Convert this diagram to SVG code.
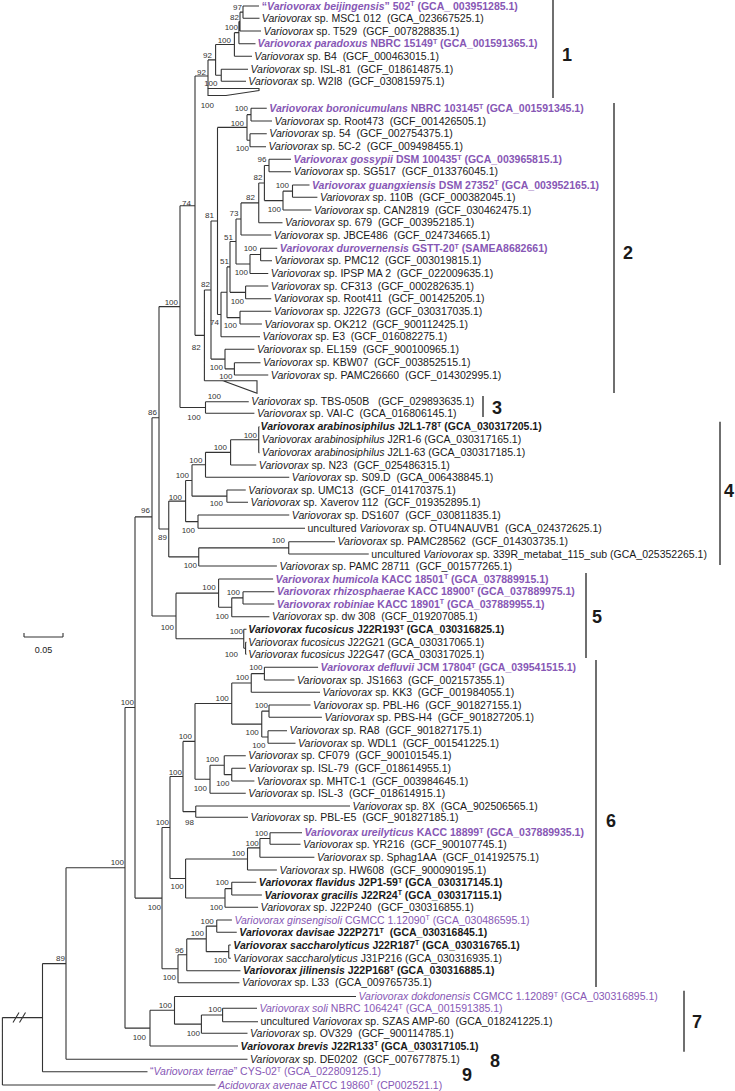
<svg xmlns="http://www.w3.org/2000/svg" width="735" height="1091" viewBox="0 0 735 1091">
<style>
.t{font-family:"Liberation Sans",Arial,sans-serif;font-size:10.5px;fill:#1a1a1a}
.b{font-weight:bold}
.p{fill:#8757b5}
.i{font-style:italic}
.s{font-size:7px}
.bs{font-family:"Liberation Sans",Arial,sans-serif;font-size:8px;fill:#333;text-anchor:end}
.cl{font-family:"Liberation Sans",Arial,sans-serif;font-size:18px;font-weight:bold;fill:#1a1a1a}
.ln{fill:none;stroke:#333;stroke-width:1.1}
.bar{fill:none;stroke:#333;stroke-width:1.4}
</style>
<rect width="735" height="1091" fill="#fff"/>
<g id="connectors">
<path class="ln" d="M243 6V18.3M243 6H259M243 18.3H259.5M240 12.15V31M240 12.15H243M240 31H261M238.9 21.6V43.7M238.9 21.6H240M238.9 43.7H255.5M234.4 32.65V56.3M234.4 32.65H238.9M234.4 56.3H252M221.25 69.3V81.3M221.25 69.3H248M221.25 81.3H246M215.6 44.5V75.3M215.6 44.5H234.4M215.6 75.3H221.25M208 59.9V88.5M208 59.9H215.6M195 76V335.35M195 76H208M195 335.35H204.4"/>
<polygon class="ln" points="208,88.5 259,88.5 259,90.5 226,95.5 208,95.5"/>
<path class="ln" d="M251 108.3V121M251 108.3H266.75M251 121H272M250 133.7V146.7M250 133.7H266.75M250 146.7H266M247 114.65V140.2M247 114.65H251M247 140.2H250M269 159.3V171.7M269 159.3H291M269 171.7H291M292.5 185V197.3M292.5 185H309.5M292.5 197.3H317.4M283 191.15V210M283 191.15H292.5M283 210H311.4M264.4 165.5V200.6M264.4 165.5H269M264.4 200.6H283M258.75 183.05V222.7M258.75 183.05H264.4M258.75 222.7H282.5M241 202.9V235M241 202.9H258.75M241 235H271.25M260.6 248.3V260.7M260.6 248.3H277.25M260.6 260.7H272M250 254.5V273.5M250 254.5H260.6M250 273.5H268.25M236 218.95V264M236 218.95H241M236 264H250M245.6 286V298.7M245.6 286H268.25M245.6 298.7H271.25M230 241.5V292.35M230 241.5H236M230 292.35H245.6M240 311.3V324M240 311.3H271.25M240 324H261.9M227 266.9V317.65M227 266.9H230M227 317.65H240M221 292.3V336.7M221 292.3H227M221 336.7H260M217.5 127.4V314.5M217.5 127.4H247M217.5 314.5H221M234.4 362.7V375M234.4 362.7H260.5M234.4 375H268.25M225 349.3V368.85M225 349.3H254.4M225 368.85H234.4M211 220.95V359.1M211 220.95H217.5M211 359.1H225M204.4 290V380.7M204.4 290H211M204.4 380.7H223"/>
<polygon class="ln" points="223,380.7 257,380.7 257,393.3"/>
<path class="ln" d="M205.5 401.7V413.3M205.5 401.7H248.75M205.5 413.3H254.4M180 205.7V407.5M180 205.7H195M180 407.5H205.5"/>
<path class="ln" d="M258.75 426.7V452.7M258.75 426.7H259.5M258.75 452.7H259.5M230.6 439.7H258.75M230.6 439.7V465M230.6 465H256.25M205.5 452.35V477.3M205.5 452.35H230.6M205.5 477.3H289.25M226.9 490V502.3M226.9 490H245.75M226.9 502.3H248M192 464.8V496.15M192 464.8H205.5M192 496.15H226.9M198 515V528.3M198 515H289.25M198 528.3H305M185.6 480.5V521.65M185.6 480.5H192M185.6 521.65H198M288.75 541.7V554M288.75 541.7H335M288.75 554H368.75M198.75 547.85V566M198.75 547.85H288.75M198.75 566H276.9M168.75 501.1V556.9M168.75 501.1H185.6M168.75 556.9H198.75M159 306.6V529M159 306.6H180M159 529H168.75"/>
<path class="ln" d="M243 591.7V604M243 591.7H274.25M243 604H274.25M231.75 597.85V616.7M231.75 597.85H243M231.75 616.7H269.4M218.6 579V607.3M218.6 579H273.1M218.6 607.3H231.75M245.6 642.3V654.3M245.6 642.3H246.5M245.6 654.3H246.5M243.75 629.3V648.3M243.75 629.3H246.5M243.75 648.3H245.6M176 593.15V638.8M176 593.15H218.6M176 638.8H243.75M152 417.8V616M152 417.8H159M152 616H176"/>
<path class="ln" d="M264.4 667.3V680M264.4 667.3H318.1M264.4 680H294.5M251.25 673.65V692.3M251.25 673.65H264.4M251.25 692.3H320M269 705V717.3M269 705H310.5M269 717.3H321.9M268 730.7V743.3M268 730.7H287M268 743.3H295.5M261.75 711.15V737M261.75 711.15H269M261.75 737H268M231.75 683V724.1M231.75 683H251.25M231.75 724.1H261.75M231.75 768.3V781M231.75 768.3H245.75M231.75 781H254.4M224.25 755.7V774.65M224.25 755.7H245.75M224.25 774.65H231.75M210 765.2V793.3M210 765.2H224.25M210 793.3H245.75M195 703.55V779.25M195 703.55H231.75M195 779.25H210M195.75 806V817.3M195.75 806H350M195.75 817.3H248M183 741.4V811.65M183 741.4H195M183 811.65H195.75M270 832.7V844.3M270 832.7H302M270 844.3H300.5M259.9 838.5V857.3M259.9 838.5H270M259.9 857.3H314.4M247.5 847.9V870M247.5 847.9H259.9M247.5 870H276.9M231.75 882.3V895M231.75 882.3H256.25M231.75 895H261.9M225 888.65V907.3M225 888.65H231.75M225 907.3H258.1M185.6 858.95V898M185.6 858.95H247.5M185.6 898H225M170 776.5V878.5M170 776.5H183M170 878.5H185.6M216.75 920V932.3M216.75 920H231.9M216.75 932.3H236.75M228.75 945V958.3M228.75 945H230.75M228.75 958.3H230.75M206.25 926.15V951.65M206.25 926.15H216.75M206.25 951.65H228.75M186.75 938.9V970.7M186.75 938.9H206.25M186.75 970.7H240.5M178 954.8V982.7M178 954.8H186.75M178 982.7H239.4M162 827.5V968.75M162 827.5H170M162 968.75H178"/>
<path class="ln" d="M135 516.9V898.1M135 516.9H152M135 898.1H162M125 707.5V1028.15M125 707.5H135M125 1028.15H150M222.6 1008.3V1021.7M222.6 1008.3H257M222.6 1021.7H258M201.4 1015V1033.3M201.4 1015H222.6M201.4 1033.3H247.5M174.5 996.5V1024.15M174.5 996.5H356M174.5 1024.15H201.4M150 1010.3V1046M150 1010.3H174.5M150 1046H238M66 867.8V1059.3M66 867.8H125M66 1059.3H247.5M42.5 963.6V1071.7M42.5 963.6H66M42.5 1071.7H147.5M2.4 1017.6V1085M2.4 1017.6H42.5M2.4 1085H215.5"/>
<path class="ln" d="M13 1022.5L19 1012.5M19.5 1022.5L25.5 1012.5"/>
</g>
<g id="leaves">
<g id="n-beijingensis"><text class="t b p" x="261.8" y="9.7">“<tspan class="i">Variovorax beijingensis</tspan>” 502<tspan class="s" dy="-3.5">T</tspan><tspan dy="3.5"> (GCA_ 003951285.1)</tspan></text></g>
<g id="n-msc1"><text class="t" x="261.8" y="22"><tspan class="i">Variovorax</tspan> sp. MSC1 012&#160; (GCA_023667525.1)</text></g>
<g id="n-t529"><text class="t" x="263.6" y="34.7"><tspan class="i">Variovorax</tspan> sp. T529&#160; (GCF_007828835.1)</text></g>
<g id="n-paradoxus"><text class="t b p" x="257.6" y="47.4"><tspan class="i">Variovorax paradoxus</tspan> NBRC 15149<tspan class="s" dy="-3.5">T</tspan><tspan dy="3.5"> (GCA_001591365.1)</tspan></text></g>
<g id="n-b4"><text class="t" x="254.3" y="60"><tspan class="i">Variovorax</tspan> sp. B4&#160; (GCF_000463015.1)</text></g>
<g id="n-isl81"><text class="t" x="250.5" y="73"><tspan class="i">Variovorax</tspan> sp. ISL-81&#160; (GCF_018614875.1)</text></g>
<g id="n-w2i8"><text class="t" x="248.3" y="85"><tspan class="i">Variovorax</tspan> sp. W2I8&#160; (GCF_030815975.1)</text></g>
<g id="n-boronicumulans"><text class="t b p" x="269.3" y="112"><tspan class="i">Variovorax boronicumulans</tspan> NBRC 103145<tspan class="s" dy="-3.5">T</tspan><tspan dy="3.5"> (GCA_001591345.1)</tspan></text></g>
<g id="n-root473"><text class="t" x="274.5" y="124.7"><tspan class="i">Variovorax</tspan> sp. Root473&#160; (GCF_001426505.1)</text></g>
<g id="n-54"><text class="t" x="269.3" y="137.4"><tspan class="i">Variovorax</tspan> sp. 54&#160; (GCF_002754375.1)</text></g>
<g id="n-5c2"><text class="t" x="268.5" y="150.4"><tspan class="i">Variovorax</tspan> sp. 5C-2&#160; (GCF_009498455.1)</text></g>
<g id="n-gossypii"><text class="t b p" x="293.6" y="163"><tspan class="i">Variovorax gossypii</tspan> DSM 100435<tspan class="s" dy="-3.5">T</tspan><tspan dy="3.5"> (GCA_003965815.1)</tspan></text></g>
<g id="n-sg517"><text class="t" x="293.6" y="175.4"><tspan class="i">Variovorax</tspan> sp. SG517&#160; (GCF_013376045.1)</text></g>
<g id="n-guangxiensis"><text class="t b p" x="312" y="188.7"><tspan class="i">Variovorax guangxiensis</tspan> DSM 27352<tspan class="s" dy="-3.5">T</tspan><tspan dy="3.5"> (GCA_003952165.1)</tspan></text></g>
<g id="n-110b"><text class="t" x="319.9" y="201"><tspan class="i">Variovorax</tspan> sp. 110B&#160; (GCF_000382045.1)</text></g>
<g id="n-can2819"><text class="t" x="313.9" y="213.7"><tspan class="i">Variovorax</tspan> sp. CAN2819&#160; (GCF_030462475.1)</text></g>
<g id="n-679"><text class="t" x="285" y="226.4"><tspan class="i">Variovorax</tspan> sp. 679&#160; (GCF_003952185.1)</text></g>
<g id="n-jbce486"><text class="t" x="273.8" y="238.7"><tspan class="i">Variovorax</tspan> sp. JBCE486&#160; (GCF_024734665.1)</text></g>
<g id="n-durovernensis"><text class="t b p" x="279.8" y="252"><tspan class="i">Variovorax durovernensis</tspan> GSTT-20<tspan class="s" dy="-3.5">T</tspan><tspan dy="3.5"> (SAMEA8682661)</tspan></text></g>
<g id="n-pmc12"><text class="t" x="274.5" y="264.4"><tspan class="i">Variovorax</tspan> sp. PMC12&#160; (GCF_003019815.1)</text></g>
<g id="n-ipsp"><text class="t" x="270.8" y="277.2"><tspan class="i">Variovorax</tspan> sp. IPSP MA 2&#160; (GCF_022009635.1)</text></g>
<g id="n-cf313"><text class="t" x="270.8" y="289.7"><tspan class="i">Variovorax</tspan> sp. CF313&#160; (GCF_000282635.1)</text></g>
<g id="n-root411"><text class="t" x="273.8" y="302.4"><tspan class="i">Variovorax</tspan> sp. Root411&#160; (GCF_001425205.1)</text></g>
<g id="n-j22g73"><text class="t" x="273.8" y="315"><tspan class="i">Variovorax</tspan> sp. J22G73&#160; (GCF_030317035.1)</text></g>
<g id="n-ok212"><text class="t" x="264.4" y="327.7"><tspan class="i">Variovorax</tspan> sp. OK212&#160; (GCF_900112425.1)</text></g>
<g id="n-e3"><text class="t" x="262.5" y="340.4"><tspan class="i">Variovorax</tspan> sp. E3&#160; (GCF_016082275.1)</text></g>
<g id="n-el159"><text class="t" x="256.9" y="353"><tspan class="i">Variovorax</tspan> sp. EL159&#160; (GCF_900100965.1)</text></g>
<g id="n-kbw07"><text class="t" x="263" y="366.4"><tspan class="i">Variovorax</tspan> sp. KBW07&#160; (GCF_003852515.1)</text></g>
<g id="n-pamc26660"><text class="t" x="270.8" y="378.7"><tspan class="i">Variovorax</tspan> sp. PAMC26660&#160; (GCF_014302995.1)</text></g>
<g id="n-tbs050b"><text class="t" x="251.3" y="405.4"><tspan class="i">Variovorax</tspan> sp. TBS-050B&#160;&#160; (GCF_029893635.1)</text></g>
<g id="n-vaic"><text class="t" x="256.9" y="417"><tspan class="i">Variovorax</tspan> sp. VAI-C&#160; (GCA_016806145.1)</text></g>
<g id="n-arab1"><text class="t b" x="260.6" y="430.4"><tspan class="i">Variovorax arabinosiphilus</tspan> J2L1-78<tspan class="s" dy="-3.5">T</tspan><tspan dy="3.5"> (GCA_030317205.1)</tspan></text></g>
<g id="n-arab2"><text class="t" x="261.8" y="443"><tspan class="i">Variovorax arabinosiphilus</tspan> J2R1-6 (GCA_030317165.1)</text></g>
<g id="n-arab3"><text class="t" x="261.8" y="456.4"><tspan class="i">Variovorax arabinosiphilus</tspan> J2L1-63 (GCA_030317185.1)</text></g>
<g id="n-n23"><text class="t" x="258.8" y="468.7"><tspan class="i">Variovorax</tspan> sp. N23&#160; (GCF_025486315.1)</text></g>
<g id="n-s09d"><text class="t" x="291.8" y="481"><tspan class="i">Variovorax</tspan> sp. S09.D&#160; (GCA_006438845.1)</text></g>
<g id="n-umc13"><text class="t" x="248.3" y="493.7"><tspan class="i">Variovorax</tspan> sp. UMC13&#160; (GCF_014170375.1)</text></g>
<g id="n-xaverov"><text class="t" x="250.5" y="506"><tspan class="i">Variovorax</tspan> sp. Xaverov 112&#160; (GCF_019352895.1)</text></g>
<g id="n-ds1607"><text class="t" x="291.8" y="518.7"><tspan class="i">Variovorax</tspan> sp. DS1607&#160; (GCF_030811835.1)</text></g>
<g id="n-otu4"><text class="t" x="307.5" y="532">uncultured <tspan class="i">Variovorax</tspan> sp. OTU4NAUVB1&#160; (GCA_024372625.1)</text></g>
<g id="n-pamc28562"><text class="t" x="337.5" y="545.4"><tspan class="i">Variovorax</tspan> sp. PAMC28562&#160; (GCF_014303735.1)</text></g>
<g id="n-339r"><text class="t" x="371.3" y="557.7">uncultured <tspan class="i">Variovorax</tspan> sp. 339R_metabat_115_sub (GCA_025352265.1)</text></g>
<g id="n-pamc28711"><text class="t" x="279.4" y="569.7"><tspan class="i">Variovorax</tspan> sp. PAMC 28711&#160; (GCF_001577265.1)</text></g>
<g id="n-humicola"><text class="t b p" x="275.6" y="582.7"><tspan class="i">Variovorax humicola</tspan> KACC 18501<tspan class="s" dy="-3.5">T</tspan><tspan dy="3.5"> (GCA_037889915.1)</tspan></text></g>
<g id="n-rhizosphaerae"><text class="t b p" x="276.8" y="595.4"><tspan class="i">Variovorax rhizosphaerae</tspan> KACC 18900<tspan class="s" dy="-3.5">T</tspan><tspan dy="3.5"> (GCA_037889975.1)</tspan></text></g>
<g id="n-robiniae"><text class="t b p" x="276.8" y="607.7"><tspan class="i">Variovorax robiniae</tspan> KACC 18901<tspan class="s" dy="-3.5">T</tspan><tspan dy="3.5"> (GCA_037889955.1)</tspan></text></g>
<g id="n-dw308"><text class="t" x="271.9" y="620.4"><tspan class="i">Variovorax</tspan> sp. dw 308&#160; (GCF_019207085.1)</text></g>
<g id="n-fuc1"><text class="t b" x="248.3" y="633"><tspan class="i">Variovorax fucosicus</tspan> J22R193<tspan class="s" dy="-3.5">T</tspan><tspan dy="3.5"> (GCA_030316825.1)</tspan></text></g>
<g id="n-fuc2"><text class="t" x="248.3" y="646"><tspan class="i">Variovorax fucosicus</tspan> J22G21 (GCA_030317065.1)</text></g>
<g id="n-fuc3"><text class="t" x="248.3" y="658"><tspan class="i">Variovorax fucosicus</tspan> J22G47 (GCA_030317025.1)</text></g>
<g id="n-defluvii"><text class="t b p" x="320.6" y="671"><tspan class="i">Variovorax defluvii</tspan> JCM 17804<tspan class="s" dy="-3.5">T</tspan><tspan dy="3.5"> (GCA_039541515.1)</tspan></text></g>
<g id="n-js1663"><text class="t" x="297" y="683.7"><tspan class="i">Variovorax</tspan> sp. JS1663&#160; (GCF_002157355.1)</text></g>
<g id="n-kk3"><text class="t" x="322.5" y="696"><tspan class="i">Variovorax</tspan> sp. KK3&#160; (GCF_001984055.1)</text></g>
<g id="n-pblh6"><text class="t" x="313" y="708.7"><tspan class="i">Variovorax</tspan> sp. PBL-H6&#160; (GCF_901827155.1)</text></g>
<g id="n-pbsh4"><text class="t" x="324.4" y="721"><tspan class="i">Variovorax</tspan> sp. PBS-H4&#160; (GCF_901827205.1)</text></g>
<g id="n-ra8"><text class="t" x="289.5" y="734.4"><tspan class="i">Variovorax</tspan> sp. RA8&#160; (GCF_901827175.1)</text></g>
<g id="n-wdl1"><text class="t" x="298" y="747"><tspan class="i">Variovorax</tspan> sp. WDL1&#160; (GCF_001541225.1)</text></g>
<g id="n-cf079"><text class="t" x="248.3" y="759.4"><tspan class="i">Variovorax</tspan> sp. CF079&#160; (GCF_900101545.1)</text></g>
<g id="n-isl79"><text class="t" x="248.3" y="772"><tspan class="i">Variovorax</tspan> sp. ISL-79&#160; (GCF_018614955.1)</text></g>
<g id="n-mhtc1"><text class="t" x="256.9" y="784.7"><tspan class="i">Variovorax</tspan> sp. MHTC-1&#160; (GCF_003984645.1)</text></g>
<g id="n-isl3"><text class="t" x="248.3" y="797"><tspan class="i">Variovorax</tspan> sp. ISL-3&#160; (GCF_018614915.1)</text></g>
<g id="n-8x"><text class="t" x="352.5" y="809.7"><tspan class="i">Variovorax</tspan> sp. 8X&#160; (GCA_902506565.1)</text></g>
<g id="n-pble5"><text class="t" x="250.5" y="821"><tspan class="i">Variovorax</tspan> sp. PBL-E5&#160; (GCF_901827185.1)</text></g>
<g id="n-ureilyticus"><text class="t b p" x="304.5" y="836.4"><tspan class="i">Variovorax ureilyticus</tspan> KACC 18899<tspan class="s" dy="-3.5">T</tspan><tspan dy="3.5"> (GCA_037889935.1)</tspan></text></g>
<g id="n-yr216"><text class="t" x="303" y="848"><tspan class="i">Variovorax</tspan> sp. YR216&#160; (GCF_900107745.1)</text></g>
<g id="n-sphag"><text class="t" x="316.9" y="861"><tspan class="i">Variovorax</tspan> sp. Sphag1AA&#160; (GCF_014192575.1)</text></g>
<g id="n-hw608"><text class="t" x="279.4" y="873.7"><tspan class="i">Variovorax</tspan> sp. HW608&#160; (GCF_900090195.1)</text></g>
<g id="n-flavidus"><text class="t b" x="258.8" y="886"><tspan class="i">Variovorax flavidus</tspan> J2P1-59<tspan class="s" dy="-3.5">T</tspan><tspan dy="3.5"> (GCA_030317145.1)</tspan></text></g>
<g id="n-gracilis"><text class="t b" x="264.4" y="898.7"><tspan class="i">Variovorax gracilis</tspan> J22R24<tspan class="s" dy="-3.5">T</tspan><tspan dy="3.5"> (GCA_030317115.1)</tspan></text></g>
<g id="n-j22p240"><text class="t" x="260.6" y="911"><tspan class="i">Variovorax</tspan> sp. J22P240&#160; (GCF_030316855.1)</text></g>
<g id="n-ginsengisoli"><text class="t p" x="234.4" y="923.7"><tspan class="i">Variovorax ginsengisoli</tspan> CGMCC 1.12090<tspan class="s" dy="-3.5">T</tspan><tspan dy="3.5"> (GCA_030486595.1)</tspan></text></g>
<g id="n-davisae"><text class="t b" x="239.3" y="936"><tspan class="i">Variovorax davisae</tspan> J22P271<tspan class="s" dy="-3.5">T</tspan><tspan dy="3.5">&#160; (GCA_030316845.1)</tspan></text></g>
<g id="n-sacch1"><text class="t b" x="233.3" y="948.7"><tspan class="i">Variovorax saccharolyticus</tspan> J22R187<tspan class="s" dy="-3.5">T</tspan><tspan dy="3.5"> (GCA_030316765.1)</tspan></text></g>
<g id="n-sacch2"><text class="t" x="233.3" y="962"><tspan class="i">Variovorax saccharolyticus</tspan> J31P216 (GCA_030316935.1)</text></g>
<g id="n-jilinensis"><text class="t b" x="243" y="974.4"><tspan class="i">Variovorax jilinensis</tspan> J22P168<tspan class="s" dy="-3.5">T</tspan><tspan dy="3.5"> (GCA_030316885.1)</tspan></text></g>
<g id="n-l33"><text class="t" x="241.9" y="986.4"><tspan class="i">Variovorax</tspan> sp. L33&#160; (GCA_009765735.1)</text></g>
<g id="n-dokdonensis"><text class="t p" x="358.5" y="1000.2"><tspan class="i">Variovorax dokdonensis</tspan> CGMCC 1.12089<tspan class="s" dy="-3.5">T</tspan><tspan dy="3.5"> (GCA_030316895.1)</tspan></text></g>
<g id="n-soli"><text class="t p" x="259.4" y="1012"><tspan class="i">Variovorax soli</tspan> NBRC 106424<tspan class="s" dy="-3.5">T</tspan><tspan dy="3.5"> (GCA_001591385.1)</tspan></text></g>
<g id="n-szas"><text class="t" x="260.4" y="1025.4">uncultured <tspan class="i">Variovorax</tspan> sp. SZAS AMP-60&#160; (GCA_018241225.1)</text></g>
<g id="n-ov329"><text class="t" x="250" y="1037"><tspan class="i">Variovorax</tspan> sp. OV329&#160; (GCF_900114785.1)</text></g>
<g id="n-brevis"><text class="t b" x="240.6" y="1049.7"><tspan class="i">Variovorax brevis</tspan> J22R133<tspan class="s" dy="-3.5">T</tspan><tspan dy="3.5"> (GCA_030317105.1)</tspan></text></g>
<g id="n-de0202"><text class="t" x="250" y="1063"><tspan class="i">Variovorax</tspan> sp. DE0202&#160; (GCF_007677875.1)</text></g>
<g id="n-terrae"><text class="t p" x="150" y="1075.4">“<tspan class="i">Variovorax terrae</tspan>” CYS-02<tspan class="s" dy="-3.5">T</tspan><tspan dy="3.5"> (GCA_022809125.1)</tspan></text></g>
<g id="n-acidovorax"><text class="t p" x="218" y="1088.7"><tspan class="i">Acidovorax avenae</tspan> ATCC 19860<tspan class="s" dy="-3.5">T</tspan><tspan dy="3.5"> (CP002521.1)</tspan></text></g>
</g>
<g id="bootstrap">
<text class="bs" x="242" y="9.5">97</text>
<text class="bs" x="239" y="19.5">82</text>
<text class="bs" x="238" y="30">100</text>
<text class="bs" x="231" y="42.5">100</text>
<text class="bs" x="212" y="58">92</text>
<text class="bs" x="217.5" y="86.3">100</text>
<text class="bs" x="206" y="75">92</text>
<text class="bs" x="214" y="108">100</text>
<text class="bs" x="248" y="111">100</text>
<text class="bs" x="244" y="125.7">100</text>
<text class="bs" x="249" y="151">100</text>
<text class="bs" x="266.5" y="162">96</text>
<text class="bs" x="262.5" y="180">82</text>
<text class="bs" x="289" y="188">100</text>
<text class="bs" x="281" y="212">100</text>
<text class="bs" x="255" y="200.3">82</text>
<text class="bs" x="238.5" y="215.7">73</text>
<text class="bs" x="214" y="218">81</text>
<text class="bs" x="191" y="206">74</text>
<text class="bs" x="233" y="239.7">51</text>
<text class="bs" x="257" y="251.3">100</text>
<text class="bs" x="229" y="263.7">51</text>
<text class="bs" x="248" y="275">100</text>
<text class="bs" x="210" y="287">82</text>
<text class="bs" x="244" y="303.7">100</text>
<text class="bs" x="219" y="324.7">74</text>
<text class="bs" x="237" y="328">100</text>
<text class="bs" x="200.6" y="350">82</text>
<text class="bs" x="223" y="369.7">100</text>
<text class="bs" x="232.5" y="379">100</text>
<text class="bs" x="178" y="304.7">100</text>
<text class="bs" x="221" y="399">100</text>
<text class="bs" x="200.6" y="419.7">100</text>
<text class="bs" x="157" y="415">86</text>
<text class="bs" x="257" y="437.5">100</text>
<text class="bs" x="227" y="450">100</text>
<text class="bs" x="202.5" y="463">100</text>
<text class="bs" x="189" y="478">100</text>
<text class="bs" x="182" y="499.7">100</text>
<text class="bs" x="223" y="506.3">100</text>
<text class="bs" x="195" y="533">100</text>
<text class="bs" x="167" y="540">89</text>
<text class="bs" x="285" y="543">100</text>
<text class="bs" x="197" y="568">100</text>
<text class="bs" x="150" y="513">96</text>
<text class="bs" x="215.6" y="589.7">100</text>
<text class="bs" x="240" y="594.7">100</text>
<text class="bs" x="228.8" y="619">100</text>
<text class="bs" x="174" y="630">100</text>
<text class="bs" x="243" y="633.7">100</text>
<text class="bs" x="238" y="657.3">100</text>
<text class="bs" x="262.5" y="670.3">100</text>
<text class="bs" x="249" y="679.7">100</text>
<text class="bs" x="228.8" y="701.3">100</text>
<text class="bs" x="268" y="708">100</text>
<text class="bs" x="258.8" y="734.7">100</text>
<text class="bs" x="265.5" y="748">100</text>
<text class="bs" x="192" y="739">100</text>
<text class="bs" x="219" y="762.3">100</text>
<text class="bs" x="229.5" y="785.7">100</text>
<text class="bs" x="207" y="791.3">100</text>
<text class="bs" x="182" y="774.7">100</text>
<text class="bs" x="194" y="824.7">98</text>
<text class="bs" x="169" y="824.7">100</text>
<text class="bs" x="268" y="835.7">100</text>
<text class="bs" x="258.8" y="845.7">100</text>
<text class="bs" x="245" y="855.7">100</text>
<text class="bs" x="183.8" y="889">100</text>
<text class="bs" x="228.8" y="884.7">100</text>
<text class="bs" x="223" y="910.3">100</text>
<text class="bs" x="161" y="909.7">100</text>
<text class="bs" x="213.8" y="923.7">100</text>
<text class="bs" x="204" y="936.3">100</text>
<text class="bs" x="227" y="963">100</text>
<text class="bs" x="183.8" y="953">96</text>
<text class="bs" x="176" y="979.7">100</text>
<text class="bs" x="134" y="705">100</text>
<text class="bs" x="124" y="865">100</text>
<text class="bs" x="65" y="961">89</text>
<text class="bs" x="172" y="1008">100</text>
<text class="bs" x="221.7" y="1012.3">100</text>
<text class="bs" x="200" y="1035.7">100</text>
<text class="bs" x="146" y="1039.7">100</text>
</g>
<g id="clades">
<path class="bar" d="M553 0V98M614 103V393M483 396V417M720 421.7V565M586 573V658M596 660V987M684 990.7V1051.7"/>
<text class="cl" x="562" y="61">1</text>
<text class="cl" x="623" y="259">2</text>
<text class="cl" x="492" y="413.5">3</text>
<text class="cl" x="724" y="496.5">4</text>
<text class="cl" x="592" y="623">5</text>
<text class="cl" x="606" y="826.5">6</text>
<text class="cl" x="692" y="1028">7</text>
<text class="cl" x="490" y="1066.5">8</text>
<text class="cl" x="462" y="1080.5">9</text>
</g>
<g id="scale-bar">
<path class="ln" d="M24 637H63M24 633V637M63 633V637"/>
<text class="t" x="43.5" y="653" text-anchor="middle" style="font-size:9px">0.05</text>
</g>
</svg>
